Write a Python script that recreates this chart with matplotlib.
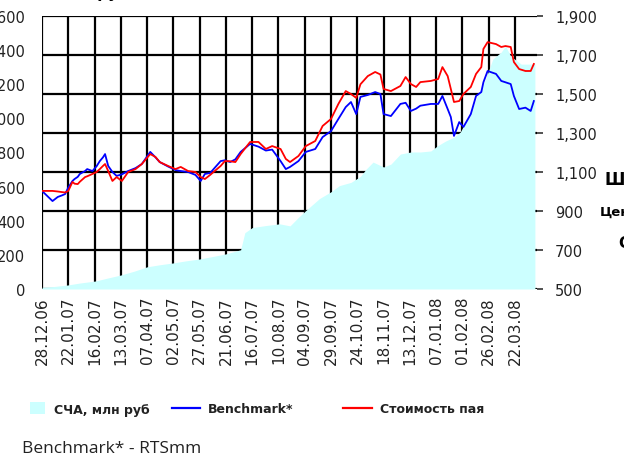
import matplotlib
matplotlib.use("Agg")
import matplotlib.pyplot as plt
import matplotlib.ticker as mticker
from matplotlib.lines import Line2D
from matplotlib.patches import Patch
import pandas as pd

# ---------------- data ----------------
tick_labels = ['28.12.06', '22.01.07', '16.02.07', '13.03.07', '07.04.07', '02.05.07',
               '27.05.07', '21.06.07', '16.07.07', '10.08.07', '04.09.07', '29.09.07',
               '24.10.07', '18.11.07', '13.12.07', '07.01.08', '01.02.08', '26.02.08',
               '22.03.08']

nav_dates = ['2006-12-28', '2007-01-09', '2007-01-22', '2007-02-02', '2007-02-17', '2007-03-01',
             '2007-03-13', '2007-03-26', '2007-04-07', '2007-04-19', '2007-05-02', '2007-05-14',
             '2007-05-27', '2007-06-08', '2007-06-21', '2007-07-05', '2007-07-09', '2007-07-16',
             '2007-07-29', '2007-08-11', '2007-08-21', '2007-08-29', '2007-09-05', '2007-09-18',
             '2007-09-29', '2007-10-07', '2007-10-18', '2007-10-27', '2007-11-01', '2007-11-08',
             '2007-11-18', '2007-11-25', '2007-12-04', '2007-12-14', '2007-12-23', '2008-01-02',
             '2008-01-08', '2008-01-16', '2008-01-24', '2008-01-30', '2008-02-09', '2008-02-16',
             '2008-02-23', '2008-03-01', '2008-03-09', '2008-03-13', '2008-03-18', '2008-03-28',
             '2008-04-10']
nav_values = [10, 15, 24, 35, 47, 65, 82, 105, 130, 142, 153, 165, 176, 190, 206, 230, 330,
              360, 372, 382, 370, 420, 460, 530, 570, 606, 625, 660, 700, 744, 715, 732, 791,
              803, 803, 809, 838, 867, 890, 920, 1037, 1143, 1230, 1348, 1389, 1424, 1365,
              1318, 1318]

line_dates = ['2006-12-28', '2007-01-07', '2007-01-12', '2007-01-16', '2007-01-19', '2007-01-22',
              '2007-01-26', '2007-01-28', '2007-01-31', '2007-02-02', '2007-02-07', '2007-02-09',
              '2007-02-14', '2007-02-18', '2007-02-21', '2007-02-24', '2007-02-26', '2007-03-01',
              '2007-03-05', '2007-03-09', '2007-03-14', '2007-03-20', '2007-03-27', '2007-04-02',
              '2007-04-10', '2007-04-15', '2007-04-19', '2007-04-27', '2007-05-04', '2007-05-09',
              '2007-05-16', '2007-05-23', '2007-05-28', '2007-06-01', '2007-06-06', '2007-06-16',
              '2007-06-20', '2007-06-25', '2007-06-30', '2007-07-05', '2007-07-14', '2007-07-22',
              '2007-07-29', '2007-08-04', '2007-08-12', '2007-08-17', '2007-08-21', '2007-08-29',
              '2007-09-05', '2007-09-14', '2007-09-21', '2007-09-29', '2007-10-06', '2007-10-13',
              '2007-10-18', '2007-10-23', '2007-10-27', '2007-11-03', '2007-11-10', '2007-11-15',
              '2007-11-18', '2007-11-25', '2007-12-04', '2007-12-09', '2007-12-14', '2007-12-19',
              '2007-12-23', '2008-01-02', '2008-01-09', '2008-01-13', '2008-01-18', '2008-01-21',
              '2008-01-24', '2008-01-29', '2008-02-02', '2008-02-09', '2008-02-14', '2008-02-19',
              '2008-02-21', '2008-02-25', '2008-03-04', '2008-03-09', '2008-03-13', '2008-03-18',
              '2008-03-21', '2008-03-26', '2008-04-01', '2008-04-06', '2008-04-09']
benchmark = [1003, 951, 972, 980, 987, 1020, 1054, 1064, 1075, 1090, 1105, 1115, 1105, 1130,
             1156, 1175, 1192, 1131, 1100, 1080, 1088, 1105, 1120, 1141, 1203, 1175, 1151,
             1128, 1110, 1105, 1100, 1085, 1054, 1090, 1095, 1156, 1160, 1151, 1165, 1203,
             1244, 1230, 1210, 1215, 1156, 1115, 1126, 1156, 1203, 1218, 1279, 1310, 1372,
             1433, 1459, 1397, 1485, 1495, 1510, 1500, 1397, 1387, 1449, 1455, 1413, 1425,
             1440, 1449, 1449, 1490, 1423, 1382, 1285, 1356, 1331, 1397, 1490, 1510, 1560,
             1618, 1603, 1567, 1560, 1551, 1490, 1423, 1430, 1413, 1464]
unit_price = [1003, 1003, 1000, 997, 995, 1003, 1049, 1040, 1038, 1050, 1074, 1078, 1090, 1100,
              1115, 1131, 1141, 1105, 1054, 1074, 1054, 1100, 1115, 1141, 1192, 1177, 1151,
              1131, 1115, 1126, 1105, 1100, 1074, 1064, 1085, 1131, 1156, 1155, 1151, 1192,
              1254, 1254, 1218, 1233, 1218, 1167, 1151, 1182, 1233, 1259, 1336, 1372, 1449,
              1515, 1500, 1480, 1550, 1592, 1613, 1600, 1526, 1515, 1541, 1587, 1551, 1536,
              1561, 1567, 1577, 1638, 1592, 1526, 1459, 1464, 1500, 1536, 1603, 1638, 1731,
              1766, 1756, 1741, 1746, 1741, 1664, 1628, 1618, 1618, 1654]

left_ticks = [0, 200, 400, 600, 800, 1000, 1200, 1400, 1600]
right_ticks = [500, 700, 900, 1100, 1300, 1500, 1700, 1900]

nav_label = 'СЧА, млн руб'
bench_label = 'Benchmark*'
price_label = 'Стоимость пая'

# ---------------- figure ----------------
W, H = 624, 456
fig = plt.figure(figsize=(W / 100, H / 100), dpi=100)
fig.patch.set_facecolor('white')

rect = [42 / W, 1 - 290 / H, (537 - 42) / W, 273 / H]
ax_grid = fig.add_axes(rect, zorder=0)
ax_area = fig.add_axes(rect, zorder=1, sharex=ax_grid)
ax_line = fig.add_axes(rect, zorder=2, sharex=ax_grid)

tick_pos = pd.to_datetime(tick_labels, format='%d.%m.%y')
xmin = pd.Timestamp('2006-12-28')
xmax = pd.Timestamp('2008-04-12')

thousands = mticker.FuncFormatter(lambda v, p: f'{int(v):,}')

# grid axes (right-hand scale, provides grid and right ticks)
ax_grid.set_xlim(xmin, xmax)
ax_grid.set_ylim(min(right_ticks), max(right_ticks))
ax_grid.set_xticks(tick_pos)
ax_grid.set_xticklabels(tick_labels, rotation=90, fontsize=11, color='#222222')
ax_grid.tick_params(axis='x', length=0, pad=5)
ax_grid.yaxis.tick_right()
ax_grid.set_yticks(right_ticks)
ax_grid.yaxis.set_major_formatter(thousands)
ax_grid.tick_params(axis='y', length=4, width=1.2, color='#333333', pad=9,
                    labelsize=10.5, labelcolor='#222222')
ax_grid.grid(True, color='black', linewidth=1.6)
for s in ax_grid.spines.values():
    s.set_visible(False)

# area axes (left-hand scale)
ax_area.patch.set_visible(False)
area_dates = pd.to_datetime(nav_dates)
ax_area.fill_between(area_dates, 0, nav_values, color='#CCFFFF', linewidth=0)
ax_area.set_ylim(min(left_ticks), max(left_ticks))
ax_area.set_yticks(left_ticks)
ax_area.yaxis.set_major_formatter(thousands)
ax_area.tick_params(axis='y', length=0, pad=12, labelsize=10.5, labelcolor='#222222')
ax_area.tick_params(axis='x', which='both', bottom=False, labelbottom=False)
for s in ax_area.spines.values():
    s.set_visible(False)

# lines axes (right-hand scale)
ax_line.patch.set_visible(False)
ldates = pd.to_datetime(line_dates)
ax_line.plot(ldates, benchmark, color='#0000FF', linewidth=1.3)
ax_line.plot(ldates, unit_price, color='#FF0000', linewidth=1.3)
ax_line.set_ylim(min(right_ticks), max(right_ticks))
ax_line.set_xlim(xmin, xmax)
ax_line.axis('off')

# ---------------- legend ----------------
leg_font = dict(family='DejaVu Sans', weight='bold', size=9)
items = [
    (Patch(facecolor='#CCFFFF', edgecolor='none'), nav_label, 30, 1.2, 1.1),
    (Line2D([], [], color='#0000FF', linewidth=1.6), bench_label, 172, 2.2, 0.7),
    (Line2D([], [], color='#FF0000', linewidth=1.6), price_label, 343, 2.3, 0.7),
]
for handle, label, x0, hl, hh in items:
    fig.legend([handle], [label], loc='center left',
               bbox_to_anchor=(x0 / W, 1 - 410 / H), frameon=False,
               prop=leg_font, handlelength=hl, handleheight=hh, handletextpad=0.7,
               borderpad=0, borderaxespad=0, labelcolor='#222222')

fig.text(22 / W, 1 - 449 / H, 'Benchmark* - RTSmm', family='Open Sans', fontsize=12.5,
         color='#222222', ha='left', va='center')

# cut-off fragments of the surrounding page
fig.text(12 / W, 1 + 2 / H, nav_label, fontsize=11, weight='bold', ha='left', va='baseline',
         color='black')
fig.text(605 / W, 1 - 180 / H, 'Ш', fontsize=12, weight='bold', ha='left', va='center',
         family='DejaVu Sans')
fig.text(600 / W, 1 - 212 / H, 'Цена', fontsize=9.5, weight='bold', ha='left', va='center',
         family='DejaVu Sans')
fig.text(618 / W, 1 - 243 / H, 'С', fontsize=11, weight='bold', ha='left', va='center',
         family='DejaVu Sans')

fig.savefig('out.png', dpi=100)
